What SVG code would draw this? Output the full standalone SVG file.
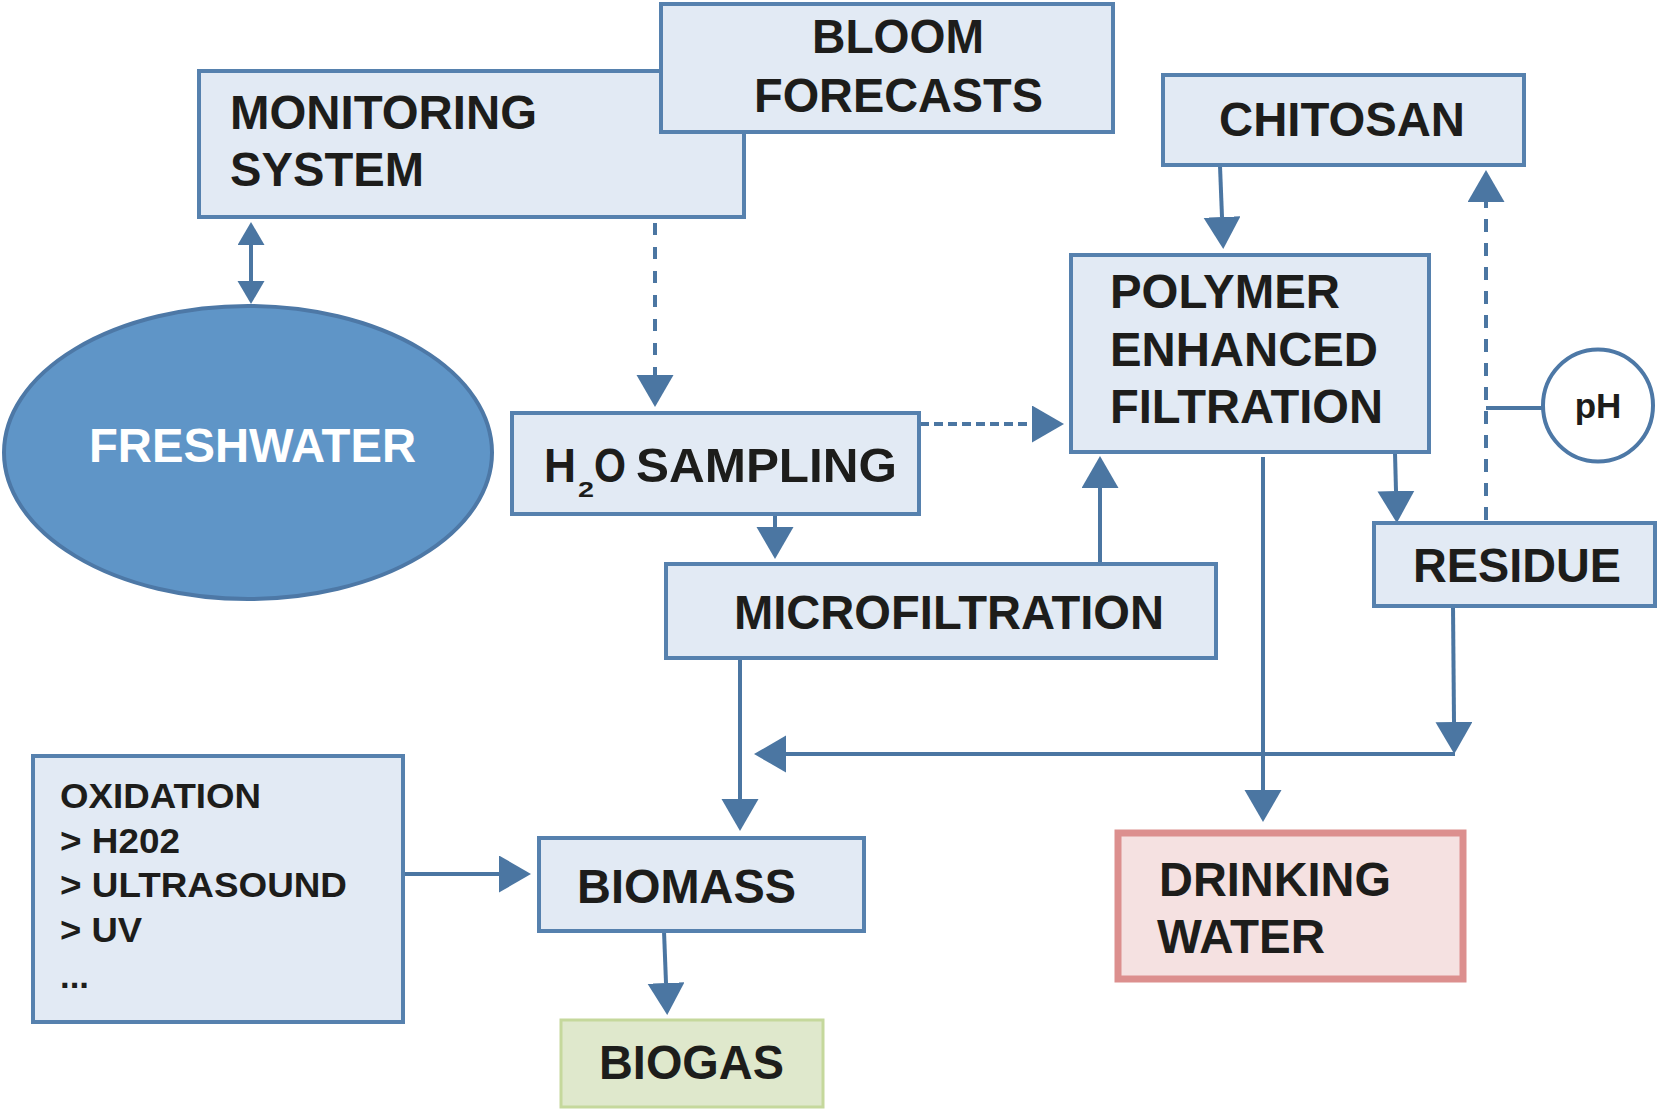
<svg xmlns="http://www.w3.org/2000/svg" width="1658" height="1110" viewBox="0 0 1658 1110">
<style>
.box{fill:#e2eaf4;stroke:#5681ae;stroke-width:4}
.t{font-family:"Liberation Sans",Arial,sans-serif;font-weight:bold;font-size:48px;fill:#1d1d1b}
.s{font-family:"Liberation Sans",Arial,sans-serif;font-weight:bold;font-size:35px;fill:#1d1d1b}
.c{fill:none;stroke:#4b76a2;stroke-width:4}
</style>
<defs>
<marker id="ah" markerUnits="userSpaceOnUse" markerWidth="33" markerHeight="38" refX="0" refY="18.5" orient="auto" viewBox="0 0 33 38">
<path d="M0,0 L32,18.5 L0,37 z" fill="#4b76a2"/>
</marker>
<marker id="ahs" markerUnits="userSpaceOnUse" markerWidth="24" markerHeight="28" refX="0" refY="13.5" orient="auto-start-reverse" viewBox="0 0 24 28">
<path d="M0,0 L23,13.5 L0,27 z" fill="#4b76a2"/>
</marker>
</defs>
<rect width="1658" height="1110" fill="#ffffff"/>

<g id="connectors">
<line class="c" x1="251" y1="245" x2="251" y2="281" marker-start="url(#ahs)" marker-end="url(#ahs)"/>
<line class="c" x1="655" y1="223" x2="655" y2="375" stroke-dasharray="12 12" marker-end="url(#ah)"/>
<line class="c" x1="920" y1="424" x2="1032" y2="424" stroke-width="5" stroke-dasharray="9 5" marker-end="url(#ah)"/>
<line class="c" x1="1220" y1="166" x2="1222" y2="217" marker-end="url(#ah)"/>
<line class="c" x1="1486" y1="520" x2="1486" y2="202" stroke-dasharray="13 11" marker-end="url(#ah)"/>
<line class="c" x1="1486" y1="408" x2="1542" y2="408" stroke-width="5"/>
<line class="c" x1="1395" y1="453" x2="1396" y2="491" marker-end="url(#ah)"/>
<line class="c" x1="775" y1="515" x2="775" y2="527" marker-end="url(#ah)"/>
<line class="c" x1="1100" y1="562" x2="1100" y2="488" marker-end="url(#ah)"/>
<line class="c" x1="1263" y1="457" x2="1263" y2="790" marker-end="url(#ah)"/>
<line class="c" x1="1453" y1="606" x2="1454" y2="722" marker-end="url(#ah)"/>
<line class="c" x1="1455" y1="754" x2="786" y2="754" stroke-width="5" marker-end="url(#ah)"/>
<line class="c" x1="740" y1="659" x2="740" y2="799" marker-end="url(#ah)"/>
<line class="c" x1="405" y1="874" x2="499" y2="874" marker-end="url(#ah)"/>
<line class="c" x1="664" y1="931" x2="666" y2="983" marker-end="url(#ah)"/>
</g>

<g id="monitoring">
<rect class="box" x="199" y="71" width="545" height="146"/>
<text class="t" x="230" y="129" textLength="307" lengthAdjust="spacingAndGlyphs">MONITORING</text>
<text class="t" x="230" y="186" textLength="194" lengthAdjust="spacingAndGlyphs">SYSTEM</text>
</g>

<g id="bloom">
<rect class="box" x="661" y="4" width="452" height="128"/>
<text class="t" x="812" y="53" textLength="172" lengthAdjust="spacingAndGlyphs">BLOOM</text>
<text class="t" x="754" y="112" textLength="289" lengthAdjust="spacingAndGlyphs">FORECASTS</text>
</g>

<g id="freshwater">
<ellipse cx="248" cy="452.5" rx="244" ry="146.5" fill="#5f95c7" stroke="#4d78a6" stroke-width="4"/>
<text class="t" x="89" y="462" style="fill:#ffffff" textLength="327" lengthAdjust="spacingAndGlyphs">FRESHWATER</text>
</g>

<g id="chitosan">
<rect class="box" x="1163" y="75" width="361" height="90" stroke-width="3"/>
<text class="t" x="1219" y="136" textLength="246" lengthAdjust="spacingAndGlyphs">CHITOSAN</text>
</g>

<g id="polymer">
<rect class="box" x="1071" y="255" width="358" height="197"/>
<text class="t" x="1110" y="308" textLength="230" lengthAdjust="spacingAndGlyphs">POLYMER</text>
<text class="t" x="1110" y="366" textLength="268" lengthAdjust="spacingAndGlyphs">ENHANCED</text>
<text class="t" x="1110" y="423" textLength="273" lengthAdjust="spacingAndGlyphs">FILTRATION</text>
</g>

<g id="ph">
<ellipse cx="1598" cy="405.5" rx="55" ry="56" fill="#ffffff" stroke="#4d78a6" stroke-width="4"/>
<text class="s" x="1598" y="418" text-anchor="middle">pH</text>
</g>

<g id="h2o-sampling">
<rect class="box" x="512" y="413" width="407" height="101" stroke-width="3"/>
<text class="t" x="544" y="482" textLength="32" lengthAdjust="spacingAndGlyphs">H</text>
<text class="t" x="578" y="497" style="font-size:22px" textLength="16" lengthAdjust="spacingAndGlyphs">2</text>
<text class="t" x="594" y="482" textLength="32" lengthAdjust="spacingAndGlyphs">O</text>
<text class="t" x="636" y="482" textLength="261" lengthAdjust="spacingAndGlyphs">SAMPLING</text>
</g>

<g id="microfiltration">
<rect class="box" x="666" y="564" width="550" height="94" stroke-width="3"/>
<text class="t" x="734" y="629" textLength="430" lengthAdjust="spacingAndGlyphs">MICROFILTRATION</text>
</g>

<g id="residue">
<rect class="box" x="1374" y="523" width="281" height="83" stroke-width="3"/>
<text class="t" x="1413" y="582" textLength="208" lengthAdjust="spacingAndGlyphs">RESIDUE</text>
</g>

<g id="oxidation">
<rect class="box" x="33" y="756" width="370" height="266" stroke-width="5"/>
<text class="s" x="60" y="808" textLength="201" lengthAdjust="spacingAndGlyphs">OXIDATION</text>
<text class="s" x="60" y="853" textLength="120" lengthAdjust="spacingAndGlyphs">&gt; H202</text>
<text class="s" x="60" y="897" textLength="287" lengthAdjust="spacingAndGlyphs">&gt; ULTRASOUND</text>
<text class="s" x="60" y="942" textLength="82" lengthAdjust="spacingAndGlyphs">&gt; UV</text>
<text class="s" x="60" y="988" textLength="29" lengthAdjust="spacingAndGlyphs">...</text>
</g>

<g id="biomass">
<rect class="box" x="539" y="838" width="325" height="93" stroke-width="3"/>
<text class="t" x="577" y="903" textLength="219" lengthAdjust="spacingAndGlyphs">BIOMASS</text>
</g>

<g id="biogas">
<rect x="561" y="1020" width="262" height="87" fill="#dfe8cc" stroke="#c5d89c" stroke-width="3"/>
<text class="t" x="599" y="1079" textLength="185" lengthAdjust="spacingAndGlyphs">BIOGAS</text>
</g>

<g id="drinking-water">
<rect x="1118" y="833" width="345" height="146" fill="#f5e1e1" stroke="#dc8f8e" stroke-width="7"/>
<text class="t" x="1159" y="896" textLength="232" lengthAdjust="spacingAndGlyphs">DRINKING</text>
<text class="t" x="1157" y="953" textLength="168" lengthAdjust="spacingAndGlyphs">WATER</text>
</g>
</svg>
